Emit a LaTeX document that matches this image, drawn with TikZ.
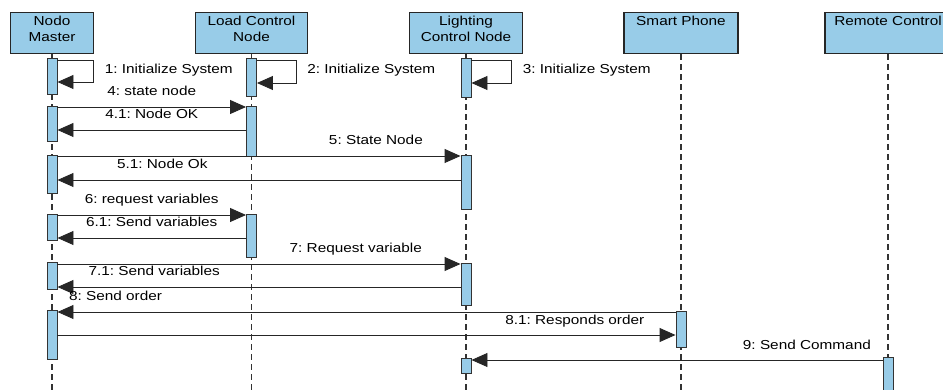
\documentclass[tikz,border=0pt]{standalone}
\usepackage{fontspec}
\setmainfont[FakeStretch=1.18]{Liberation Sans}
\usetikzlibrary{arrows.meta}
\definecolor{bleuvp}{RGB}{152,204,232}
\frenchspacing
\begin{document}
\begin{tikzpicture}[x=1pt,y=-1pt]
\tikzstyle{entete}=[rectangle,draw=black!85,line width=1.3pt,fill=bleuvp,anchor=north,minimum height=41pt,inner sep=0pt]
\tikzstyle{titre}=[anchor=north,align=center,inner sep=0pt,font=\fontsize{13}{16}\selectfont]
\tikzstyle{vie}=[draw=black!80,line width=1.2pt,dash pattern=on 6pt off 4pt]
\tikzstyle{activation}=[rectangle,draw=black!80,line width=0.9pt,fill=bleuvp,anchor=north,minimum width=10pt,inner sep=0pt]
\tikzstyle{message}=[-{Triangle[length=16pt,width=14pt]},line width=0.9pt,draw=black!85]
\tikzstyle{texte}=[anchor=base,inner sep=0pt,yshift=11pt,font=\fontsize{13}{16}\selectfont]
\tikzstyle{texteboucle}=[anchor=west,inner sep=0pt,xshift=11pt,yshift=1pt,font=\fontsize{13}{16}\selectfont]
\clip (0,0) rectangle (943,390);
% en-tetes
\node[entete,minimum width=83pt] (nm) at (52,12) {};
\node[entete,minimum width=112pt] (lc) at (251.5,12) {};
\node[entete,minimum width=113pt] (lt) at (466,12) {};
\node[entete,minimum width=114pt] (sp) at (681,12) {};
\node[entete,minimum width=126pt] (rc) at (888,12) {};
\node[titre] (tnm) at ([yshift=-3.5pt]nm.north) {Nodo\\Master};
\node[titre] (tlc) at ([yshift=-3.5pt]lc.north) {Load Control\\Node};
\node[titre] (tlt) at ([yshift=-3.5pt]lt.north) {Lighting\\Control Node};
\node[titre] (tsp) at ([yshift=-3.5pt]sp.north) {Smart Phone};
\node[titre] (trc) at ([yshift=-3.5pt]rc.north) {Remote Control};
% lignes de vie
\draw[vie] (nm.south) -- (nm.south |- 0,390);
\draw[vie] (lc.south) -- (lc.south |- 0,390);
\draw[vie] (lt.south) -- (lt.south |- 0,390);
\draw[vie] (sp.south) -- (sp.south |- 0,390);
\draw[vie] (rc.south) -- (rc.south |- 0,390);
% activations
\node[activation,minimum height=36pt] (nm1) at (52,58) {};
\node[activation,minimum height=35pt] (nm2) at (52,106) {};
\node[activation,minimum height=38pt] (nm3) at (52,155) {};
\node[activation,minimum height=26pt] (nm4) at (52,214) {};
\node[activation,minimum height=27pt] (nm5) at (52,262) {};
\node[activation,minimum height=49pt] (nm6) at (52,310) {};
\node[activation,minimum height=38pt] (lc1) at (251.5,58) {};
\node[activation,minimum height=50pt] (lc2) at (251.5,106) {};
\node[activation,minimum height=43pt] (lc3) at (251.5,214) {};
\node[activation,minimum height=39pt] (lt1) at (466,58) {};
\node[activation,minimum height=54pt] (lt2) at (466,155) {};
\node[activation,minimum height=42pt] (lt3) at (466,263) {};
\node[activation,minimum height=15pt] (lt4) at (466,358) {};
\node[activation,minimum height=36pt] (sp1) at (681,311) {};
\node[activation,minimum height=40pt] (rc1) at (888,357) {};
% messages
\draw[message] (nm1.east |- 0,60) -- ++(36,0) |- (nm1.east |- 0,82) node[texteboucle,pos=0.25]{1: Initialize System};
\draw[message] (lc1.east |- 0,60) -- ++(39,0) |- (lc1.east |- 0,83) node[texteboucle,pos=0.25]{2: Initialize System};
\draw[message] (lt1.east |- 0,60) -- ++(40,0) |- (lt1.east |- 0,83) node[texteboucle,pos=0.25]{3: Initialize System};
\draw[message] (nm2.east |- 0,107) -- (lc2.west |- 0,107) node[texte,midway]{4: state node};
\draw[message] (lc2.west |- 0,130) -- (nm2.east |- 0,130) node[texte,midway]{4.1: Node OK};
\draw[message] (nm3.east |- 0,156) -- (lt2.west |- 0,156) node[texte,pos=0.79]{5: State Node};
\draw[message] (lt2.west |- 0,180) -- (nm3.east |- 0,180) node[texte,pos=0.74]{5.1: Node Ok};
\draw[message] (nm4.east |- 0,215) -- (lc3.west |- 0,215) node[texte,midway]{6: request variables};
\draw[message] (lc3.west |- 0,238) -- (nm4.east |- 0,238) node[texte,midway]{6.1: Send variables};
\draw[message] (nm5.east |- 0,264) -- (lt3.west |- 0,264) node[texte,pos=0.74]{7: Request variable};
\draw[message] (lt3.west |- 0,287) -- (nm5.east |- 0,287) node[texte,pos=0.76]{7.1: Send variables};
\draw[message] (sp1.west |- 0,312) -- (nm6.east |- 0,312) node[texte,pos=0.906]{8: Send order};
\draw[message] (nm6.east |- 0,335) -- (sp1.west |- 0,335) node[texte,pos=0.837]{8.1: Responds order};
\draw[message] (rc1.west |- 0,360) -- (lt4.east |- 0,360) node[texte,pos=0.184]{9: Send Command};
\end{tikzpicture}
\end{document}
